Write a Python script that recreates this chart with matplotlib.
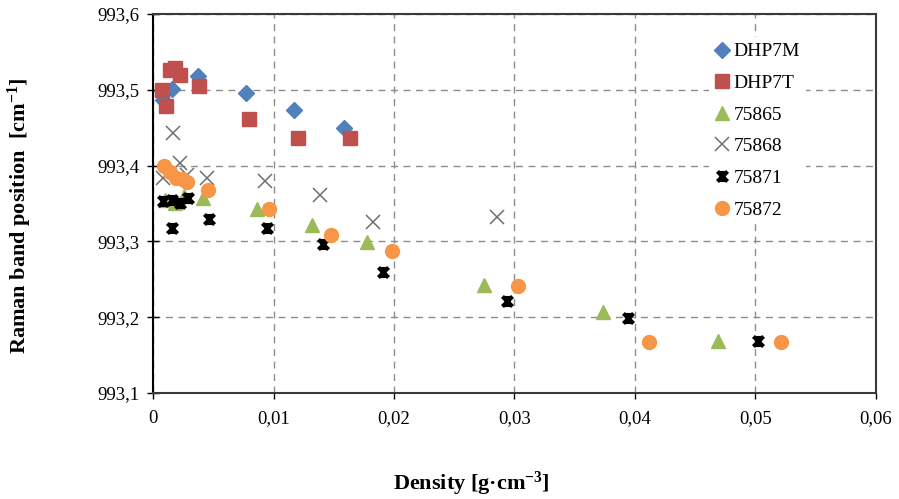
import numpy as np
import matplotlib
matplotlib.use("Agg")
import matplotlib.pyplot as plt
from matplotlib.path import Path
from matplotlib.ticker import FuncFormatter, MultipleLocator

plt.rcParams['font.family'] = ['Liberation Serif', 'DejaVu Serif']
plt.rcParams['mathtext.default'] = 'regular'

# densidad [g/cm3] y posicion de banda Raman [cm-1] por muestra
x_dhp7m = [0.00083, 0.00158, 0.00374, 0.00773, 0.01172, 0.01588]
y_dhp7m = [993.487, 993.501, 993.518, 993.496, 993.474, 993.450]

x_dhp7t = [0.00075, 0.00108, 0.00141, 0.00183, 0.00224, 0.00382, 0.00798, 0.01205, 0.01638]
y_dhp7t = [993.500, 993.478, 993.526, 993.529, 993.520, 993.505, 993.462, 993.436, 993.436]

x_75865 = [0.0010, 0.0018, 0.0026, 0.00416, 0.00864, 0.01322, 0.01779, 0.02743, 0.03732, 0.04688]
y_75865 = [993.354, 993.351, 993.360, 993.357, 993.343, 993.321, 993.299, 993.243, 993.207, 993.168]

x_75868 = [0.00083, 0.00166, 0.00224, 0.00283, 0.00449, 0.00931, 0.01388, 0.01829, 0.02851]
y_75868 = [993.384, 993.443, 993.404, 993.387, 993.384, 993.380, 993.361, 993.325, 993.332]

x_75871 = [0.00083, 0.00158, 0.00158, 0.00224, 0.00291, 0.00466, 0.00948, 0.01413, 0.01912, 0.02934, 0.03940, 0.05021]
y_75871 = [993.353, 993.355, 993.318, 993.351, 993.357, 993.330, 993.318, 993.297, 993.259, 993.221, 993.199, 993.168]

x_75872 = [0.00091, 0.00141, 0.00191, 0.00241, 0.00283, 0.00457, 0.00964, 0.01480, 0.01987, 0.03026, 0.04115, 0.05212]
y_75872 = [993.400, 993.391, 993.384, 993.382, 993.379, 993.368, 993.343, 993.308, 993.287, 993.241, 993.167, 993.167]

# marcador estrella tipo Excel (X con barra vertical)
star = Path([(-1, -1), (1, 1), (-1, 1), (1, -1), (0, -1.1), (0, 1.1)],
            [Path.MOVETO, Path.LINETO, Path.MOVETO, Path.LINETO, Path.MOVETO, Path.LINETO])

fig = plt.figure(figsize=(8.99, 4.99), dpi=100)
ax = fig.add_axes([0.1702, 0.2124, 0.8042, 0.7595])

ax.plot(x_dhp7m, y_dhp7m, 'D', color='#4F81BD', ms=8.5, mec='#4F81BD', label='DHP7M', ls='none')
ax.plot(x_dhp7t, y_dhp7t, 's', color='#C0504D', ms=10, mec='#C0504D', label='DHP7T', ls='none')
ax.plot(x_75865, y_75865, '^', color='#9BBB59', ms=10, mec='#9BBB59', label='75865', ls='none')
ax.plot(x_75868, y_75868, 'x', color='#6E6E6E', ms=10, mew=1.1, label='75868', ls='none')
ax.plot(x_75871, y_75871, marker=star, color='black', ms=8, mew=3, label='75871', ls='none')
ax.plot(x_75872, y_75872, 'o', color='#F79646', ms=10, mec='#F79646', label='75872', ls='none')

ax.set_xlim(0, 0.06)
ax.set_ylim(993.1, 993.6)
ax.xaxis.set_major_locator(MultipleLocator(0.01))
ax.yaxis.set_major_locator(MultipleLocator(0.1))

coma = lambda v, pos: ('%g' % round(v, 4)).replace('.', ',')
ax.xaxis.set_major_formatter(FuncFormatter(coma))
ax.yaxis.set_major_formatter(FuncFormatter(lambda v, pos: ('%.1f' % v).replace('.', ',')))

ax.grid(True, ls=(0, (5, 4)), color='#8C8C8C', lw=1)
ax.set_axisbelow(True)

for s in ax.spines.values():
    s.set_color('#3A3A3A')
    s.set_linewidth(1.5)
ax.spines['left'].set_color('black')

ax.tick_params(axis='y', direction='inout', length=8, width=1, labelsize=13.5, pad=6)
ax.tick_params(axis='x', direction='out', length=4, width=1, labelsize=13.5, pad=8)

ax.set_ylabel('Raman band position  [cm$^{-1}$]', fontsize=16, fontweight='bold')
ax.set_xlabel('Density [g·cm$^{-3}$]', fontsize=16, fontweight='bold')
ax.yaxis.set_label_coords(-0.165, 0.467)
ax.xaxis.set_label_coords(0.44, -0.203)

leg = ax.legend(loc='upper left', bbox_to_anchor=(0.755, 0.965), fontsize=14,
                frameon=True, facecolor='white', edgecolor='none', framealpha=1,
                handlelength=0.8, handletextpad=0.2, labelspacing=0.72, borderpad=0.3)

plt.savefig("out.png", dpi=100)
